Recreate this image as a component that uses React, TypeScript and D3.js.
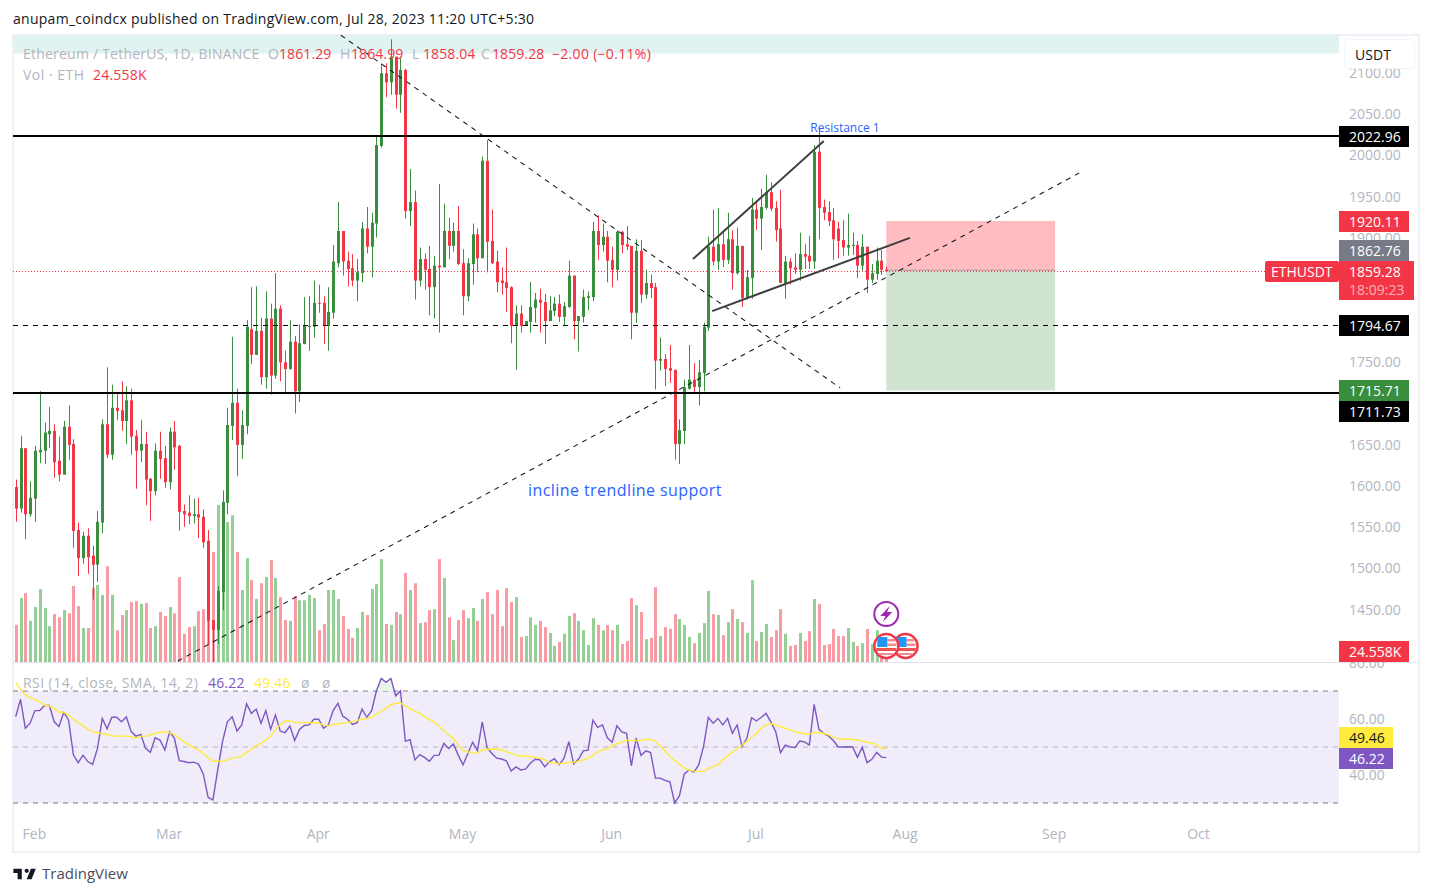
import React, { useEffect, useRef } from 'react'
import * as d3 from 'd3'

// daily candles, Jan 28 to Jul 28 2023
const firstDay = Date.UTC(2023, 0, 28)

const opens = [
  1598, 1572, 1645, 1565, 1584, 1640, 1642, 1662, 1666, 1630, 1613, 1671, 1650, 1546, 1512, 1539, 1515, 1504, 1555, 1674,
  1637, 1694, 1691, 1678, 1703, 1660, 1642, 1650, 1608, 1593, 1642, 1633, 1604, 1665, 1648, 1569, 1567, 1563, 1565, 1562,
  1533, 1437, 1425, 1471, 1579, 1672, 1700, 1649, 1672, 1789, 1758, 1787, 1731, 1802, 1733, 1814, 1749, 1741, 1774, 1714,
  1771, 1792, 1792, 1821, 1821, 1793, 1809, 1869, 1908, 1872, 1863, 1848, 1857, 1911, 1889, 1917, 2011, 2099, 2088, 2119,
  2073, 2103, 1932, 1943, 1848, 1874, 1862, 1840, 1866, 1864, 1908, 1890, 1908, 1869, 1829, 1868, 1904, 1875, 1993, 1896,
  1871, 1848, 1846, 1840, 1793, 1808, 1794, 1798, 1815, 1825, 1822, 1799, 1811, 1820, 1804, 1816, 1854, 1799, 1804, 1827,
  1828, 1908, 1891, 1901, 1873, 1861, 1907, 1892, 1890, 1809, 1884, 1831, 1845, 1840, 1751, 1753, 1742, 1740, 1650, 1666,
  1717, 1728, 1719, 1736, 1791, 1889, 1871, 1892, 1873, 1898, 1857, 1890, 1827, 1851, 1934, 1923, 1936, 1955, 1936, 1911,
  1845, 1871, 1864, 1861, 1880, 1878, 1871, 2004, 1937, 1931, 1921, 1911, 1897, 1888, 1890, 1891, 1866, 1889, 1849, 1856,
  1872, 1861.29,
]
const highs = [
  1607, 1660, 1645, 1605, 1648, 1714, 1676, 1695, 1674, 1659, 1678, 1697, 1656, 1555, 1544, 1548, 1527, 1569, 1680, 1743,
  1722, 1713, 1726, 1720, 1717, 1667, 1679, 1665, 1609, 1651, 1665, 1648, 1670, 1678, 1649, 1577, 1588, 1584, 1585, 1571,
  1546, 1437, 1478, 1594, 1694, 1780, 1717, 1691, 1800, 1840, 1841, 1803, 1835, 1820, 1857, 1818, 1763, 1800, 1781, 1795,
  1828, 1829, 1848, 1843, 1829, 1840, 1891, 1943, 1908, 1883, 1880, 1874, 1919, 1937, 1930, 2023, 2111, 2111, 2140, 2119,
  2119, 2104, 1983, 1957, 1888, 1881, 1890, 1878, 1965, 1941, 1924, 1918, 1938, 1886, 1875, 1917, 1911, 1998, 2018, 1934,
  1884, 1864, 1888, 1841, 1818, 1818, 1799, 1846, 1833, 1838, 1832, 1829, 1828, 1831, 1822, 1872, 1854, 1805, 1837, 1835,
  1919, 1927, 1917, 1908, 1889, 1909, 1908, 1914, 1890, 1898, 1897, 1861, 1855, 1845, 1779, 1759, 1770, 1740, 1680, 1728,
  1770, 1748, 1752, 1797, 1901, 1934, 1936, 1906, 1930, 1909, 1912, 1890, 1861, 1948, 1944, 1959, 1976, 1967, 1944, 1958,
  1878, 1875, 1881, 1906, 1892, 1902, 2012, 2033, 1946, 1944, 1936, 1919, 1921, 1929, 1906, 1896, 1904, 1889, 1868, 1888,
  1885, 1864.99,
]
const lows = [
  1556, 1567, 1535, 1562, 1556, 1627, 1626, 1645, 1609, 1605, 1613, 1631, 1524, 1490, 1505, 1493, 1462, 1483, 1542, 1633,
  1631, 1679, 1666, 1650, 1637, 1596, 1628, 1576, 1557, 1588, 1608, 1597, 1595, 1619, 1545, 1550, 1553, 1554, 1536, 1524,
  1407, 1386, 1408, 1449, 1565, 1655, 1611, 1632, 1662, 1747, 1758, 1722, 1717, 1710, 1729, 1726, 1713, 1740, 1687, 1701,
  1771, 1763, 1779, 1809, 1771, 1763, 1802, 1864, 1854, 1841, 1841, 1823, 1846, 1881, 1852, 1900, 2009, 2070, 2073, 2056,
  2051, 1923, 1914, 1825, 1841, 1837, 1806, 1802, 1785, 1864, 1874, 1883, 1867, 1806, 1823, 1843, 1858, 1875, 1858, 1868,
  1834, 1831, 1810, 1772, 1740, 1785, 1793, 1785, 1797, 1785, 1771, 1799, 1805, 1798, 1793, 1815, 1777, 1762, 1797, 1812,
  1823, 1873, 1883, 1846, 1840, 1848, 1881, 1885, 1777, 1797, 1821, 1826, 1827, 1716, 1739, 1720, 1724, 1631, 1626, 1650,
  1716, 1712, 1697, 1714, 1787, 1866, 1861, 1864, 1868, 1837, 1855, 1816, 1825, 1826, 1909, 1885, 1934, 1932, 1895, 1845,
  1826, 1843, 1856, 1848, 1862, 1862, 1862, 1898, 1921, 1914, 1873, 1875, 1878, 1878, 1879, 1851, 1860, 1833, 1845, 1849,
  1855, 1858.04,
]
const closes = [
  1572, 1645, 1565, 1585, 1642, 1643, 1664, 1666, 1628, 1613, 1671, 1649, 1545, 1512, 1539, 1513, 1504, 1556, 1674, 1637,
  1694, 1690, 1678, 1703, 1659, 1642, 1650, 1607, 1593, 1642, 1632, 1604, 1665, 1646, 1568, 1565, 1563, 1565, 1561, 1531,
  1436, 1425, 1472, 1580, 1673, 1700, 1649, 1673, 1792, 1758, 1787, 1731, 1802, 1733, 1814, 1749, 1741, 1774, 1714, 1772,
  1793, 1793, 1821, 1820, 1793, 1810, 1871, 1908, 1871, 1862, 1848, 1858, 1911, 1889, 1918, 2012, 2099, 2088, 2119, 2073,
  2103, 1932, 1943, 1848, 1874, 1861, 1840, 1866, 1864, 1908, 1890, 1908, 1868, 1829, 1869, 1904, 1875, 1993, 1895, 1869,
  1846, 1845, 1839, 1793, 1808, 1793, 1799, 1816, 1825, 1821, 1799, 1812, 1820, 1804, 1817, 1854, 1799, 1805, 1828, 1829,
  1908, 1891, 1901, 1872, 1861, 1907, 1891, 1889, 1809, 1884, 1831, 1845, 1839, 1751, 1753, 1741, 1739, 1650, 1667, 1719,
  1728, 1719, 1737, 1792, 1889, 1871, 1892, 1873, 1898, 1857, 1890, 1827, 1852, 1934, 1923, 1937, 1955, 1935, 1909, 1845,
  1871, 1863, 1861, 1880, 1877, 1871, 2004, 1936, 1930, 1920, 1898, 1896, 1888, 1891, 1891, 1866, 1889, 1849, 1857, 1872,
  1861, 1859.28,
]
// volume in thousands of ETH
const volumes = [
  83, 143, 154, 92, 123, 163, 121, 80, 107, 100, 116, 109, 170, 125, 76, 76, 165, 172, 150, 214,
  150, 71, 105, 116, 134, 136, 130, 132, 76, 80, 112, 103, 123, 109, 190, 63, 78, 80, 114, 118,
  185, 246, 351, 257, 313, 328, 246, 161, 232, 183, 141, 176, 190, 228, 188, 145, 94, 92, 147, 138,
  138, 150, 143, 71, 85, 161, 161, 141, 103, 74, 54, 76, 112, 105, 163, 174, 230, 85, 83, 112,
  107, 199, 161, 176, 87, 89, 116, 118, 230, 188, 100, 49, 94, 116, 98, 121, 92, 141, 156, 107,
  161, 80, 165, 134, 145, 56, 58, 100, 83, 92, 78, 65, 36, 45, 63, 103, 109, 92, 71, 38,
  98, 83, 71, 83, 71, 83, 40, 47, 143, 127, 112, 51, 54, 167, 58, 78, 74, 107, 96, 83,
  56, 42, 65, 87, 159, 107, 105, 60, 89, 118, 96, 89, 65, 183, 47, 67, 85, 56, 71, 118,
  63, 36, 38, 65, 47, 69, 141, 130, 38, 40, 74, 58, 58, 76, 45, 36, 42, 74, 40, 71,
  45, 24.558,
]
const rsi = [
  60.8, 67, 56.7, 58.5, 63, 63, 64.8, 64.8, 59, 57.3, 62.4, 59.6, 47.1, 44.4, 47.1, 44.8, 43.8, 49.5, 60.2, 56.5,
  60.6, 60.6, 59, 60.8, 55.5, 53.9, 54.5, 49.5, 48.1, 53.3, 52.5, 48.9, 55.4, 53.1, 45.1, 44.8, 44.4, 44.6, 43.9, 40.4,
  32, 31.1, 41.8, 51.9, 59, 60.8, 55.7, 57.9, 65.4, 62, 63.5, 58.5, 63, 56.3, 61.4, 55.7, 55.1, 57.5, 52.3, 56.3,
  57.7, 57.9, 59.9, 59.9, 56.7, 57.9, 63, 65.6, 61, 59.9, 58.1, 58.7, 63.5, 60.6, 63, 70.1, 74.5, 73.1, 74.5, 68.3,
  70.1, 52.1, 52.6, 45.4, 47.3, 46.3, 44.9, 47, 47.1, 51.3, 49.5, 51.1, 47.1, 43.6, 47.7, 51.7, 48.7, 59, 49.8, 47.7,
  46, 45.7, 45.1, 41.4, 42.9, 41.8, 42.1, 44.2, 45.6, 45.4, 42.9, 44.8, 45.8, 43.7, 46, 51.9, 44, 45.6, 48.6, 48.9,
  59.6, 57, 57.9, 53.3, 51.7, 57.6, 55.4, 54.9, 43.3, 53.2, 47, 48.6, 48, 38.9, 38.9, 38.1, 37.6, 30.1, 32.6, 40.4,
  41.8, 41, 43.6, 50.1, 60.6, 58.5, 60.2, 57.9, 60.2, 54.9, 57.9, 50.1, 53.1, 60.5, 59.3, 60.6, 62, 59, 55.5, 48,
  50.7, 50, 49.8, 52.1, 51.8, 50.7, 65.2, 56.3, 54.9, 53.9, 52.3, 50, 50, 50.1, 50, 46.3, 49.9, 44.4, 45.6, 48.1,
  46.4, 46.22,
]
const rsiSma = [
  73, 70.6, 68.6, 67.6, 67, 66.2, 65, 64.6, 63.8, 62.4, 62.4, 61.4, 59.9, 58.7, 57.7, 56.3, 55.5, 55, 54.8, 54.4,
  54, 53.9, 53.9, 53.9, 53.7, 53.2, 53.8, 53.9, 54.3, 54.9, 55.2, 55.4, 55.1, 54.4, 53.1, 51.9, 50.7, 49.9, 49, 47.7,
  46.3, 45.1, 44.8, 44.9, 45.4, 46.1, 46.2, 46.8, 48.1, 49.2, 50.4, 51.3, 52.5, 53.9, 56.1, 58.1, 59.2, 59.4, 58.8, 58.7,
  58.7, 58.8, 58.7, 58.5, 57.9, 57.6, 57.9, 58.3, 58.5, 58.7, 59, 59.5, 60, 60.2, 60.6, 61.7, 62.8, 63.8, 65.1, 65.6,
  65.7, 64.6, 63.6, 62.9, 62, 60.8, 59.9, 59, 57.5, 55.8, 54.3, 53, 50.7, 48.9, 48.2, 48, 47.9, 48.8, 49.2, 49.3,
  49.2, 49, 48.3, 47.7, 47.1, 46.8, 46.8, 46.5, 46.3, 46, 45.4, 44.5, 44.2, 44, 44.2, 44.5, 44.5, 44.9, 45.4, 46,
  47.1, 48.3, 48.9, 49.4, 50.4, 51.2, 51.7, 52.3, 52.3, 52.3, 52.5, 52.7, 52.7, 52, 50.4, 48.6, 46.8, 45.1, 43.7, 42.5,
  41.8, 41.4, 41.3, 41.3, 42.3, 43, 43.7, 45.4, 46.9, 48.1, 49.3, 50.6, 52, 53.5, 54.9, 56.7, 57.9, 58.3, 57.9, 57.3,
  56.7, 56.1, 55.5, 55.1, 54.8, 54.5, 55.2, 55.2, 54.9, 54.3, 53.5, 52.9, 52.7, 53, 52.7, 52.6, 52.1, 51.7, 51.4, 50.8,
  49.5, 49.46,
]

// 1850, 1800 and 1700 sit under the price tags in the picture, so they are left out
const priceTicks = [2100, 2050, 2000, 1950, 1900, 1750, 1650, 1600, 1550, 1500, 1450]
const rsiTicks = [80, 60, 40]
const monthTicks = [1, 2, 3, 4, 5, 6, 7, 8, 9].map(m => new Date(Date.UTC(2023, m, 1)))

// trend lines as [bar index, price] pairs
const dashedTrends = [
  [[67.6, 2145], [171.4, 1718]],
  [[33.7, 1387.4], [221.9, 1980.7]],
]
const wedgeLines = [
  [[140.8, 1874], [168, 2017]],
  [[144.8, 1811], [185.9, 1899.6]],
]
const solidLevels = [2022.96, 1711.73]
const dashedLevel = 1794.67
const lastClose = 1859.28
const stopPrice = 1920.11
const targetPrice = 1715.71
const positionEnd = 216.1

const green = '#388e3c'
const red = '#f23645'
const gray = '#b2b5be'
const font = "'Open Sans', 'Noto Sans', sans-serif"

const left = 13
const right = 1339

const day = (i: number) => new Date(firstDay + i * 86400000)

const App = () => {
  const svg = useRef<SVGSVGElement>(null)

  useEffect(() => {
    const root = d3.select(svg.current)
    root.selectAll('*').remove()

    const x = d3.scaleUtc().domain([day(0), day(181)]).range([15.7, 886.3])
    const barX = (i: number) => x(day(i))
    const y = d3.scaleLinear().domain([2000, 1500]).range([155, 568])
    const yVol = d3.scaleLinear().domain([0, 351]).range([662, 505])
    const yRsi = d3.scaleLinear().domain([60, 40]).range([719, 775])

    const bars = opens.map((o, i) => ({
      i, o, h: highs[i], l: lows[i], c: closes[i], v: volumes[i], up: closes[i] >= o,
      px: Math.round(barX(i)),
    }))

    // page frame
    root.append('rect').attr('width', 1432).attr('height', 896).attr('fill', '#fff')
    root.append('rect').attr('x', 13).attr('y', 35).attr('width', 1406).attr('height', 817)
      .attr('fill', 'none').attr('stroke', '#f0f0f6').attr('stroke-width', 2)
    root.append('text').attr('x', 13).attr('y', 24).attr('font-size', 14).attr('fill', '#131722')
      .attr('letter-spacing', 0.27).attr('font-family', font)
      .text('anupam_coindcx published on TradingView.com, Jul 28, 2023 11:20 UTC+5:30')

    // teal band behind the legend
    root.append('rect').attr('x', left).attr('y', 35).attr('width', right - left).attr('height', 18.5).attr('fill', '#e0f3f1')

    // position tool
    const boxBottom = Math.ceil(y(targetPrice)) + 0.5
    root.append('rect').attr('x', barX(181)).attr('y', y(stopPrice)).attr('width', barX(positionEnd) - barX(181))
      .attr('height', y(lastClose) - y(stopPrice)).attr('fill', '#ffbcc1')
    root.append('rect').attr('x', barX(181)).attr('y', y(lastClose)).attr('width', barX(positionEnd) - barX(181))
      .attr('height', boxBottom - y(lastClose)).attr('fill', '#d1e4d2')
    root.append('line').attr('x1', barX(181)).attr('x2', barX(positionEnd)).attr('y1', y(lastClose) - 1).attr('y2', y(lastClose) - 1)
      .attr('stroke', '#9aa3a0').attr('stroke-width', 1)

    // volume
    root.append('g').selectAll('rect').data(bars).enter().append('rect')
      .attr('x', d => d.px - 1).attr('width', 3)
      .attr('y', d => yVol(d.v)).attr('height', d => yVol(0) - yVol(d.v))
      .attr('fill', d => (d.up ? '#94cf96' : '#f99ba4'))

    // last price dotted line
    root.append('line').attr('x1', left).attr('x2', 1265).attr('y1', Math.round(y(lastClose)) + 0.5).attr('y2', Math.round(y(lastClose)) + 0.5)
      .attr('stroke', red).attr('stroke-dasharray', '1 2')

    // candles
    const candle = root.append('g').selectAll('g').data(bars).enter().append('g')
      .attr('fill', d => (d.up ? green : red)).attr('stroke', d => (d.up ? green : red))
    candle.append('line')
      .attr('x1', d => d.px + 0.5).attr('x2', d => d.px + 0.5)
      .attr('y1', d => y(d.h)).attr('y2', d => y(d.l))
    candle.append('rect')
      .attr('stroke', 'none')
      .attr('x', d => d.px - 1).attr('width', 3)
      .attr('y', d => y(Math.max(d.o, d.c)))
      .attr('height', d => Math.max(1, Math.abs(y(d.o) - y(d.c))))

    // levels
    solidLevels.forEach(p => {
      root.append('line').attr('x1', left).attr('x2', right).attr('y1', Math.round(y(p))).attr('y2', Math.round(y(p)))
        .attr('stroke', '#000').attr('stroke-width', 2)
    })
    root.append('line').attr('x1', left).attr('x2', right).attr('y1', Math.round(y(dashedLevel)) + 0.5).attr('y2', Math.round(y(dashedLevel)) + 0.5)
      .attr('stroke', '#000').attr('stroke-dasharray', '5 5')

    const trend = d3.line<number[]>().x(d => barX(d[0])).y(d => y(d[1]))
    dashedTrends.forEach(t => {
      root.append('path').attr('d', trend(t)).attr('fill', 'none').attr('stroke', '#131722')
        .attr('stroke-width', 1.05).attr('stroke-dasharray', '5 5')
    })
    wedgeLines.forEach(t => {
      root.append('path').attr('d', trend(t)).attr('fill', 'none').attr('stroke', '#3f3f3f').attr('stroke-width', 2)
    })

    // drawing labels
    root.append('text').attr('x', 845).attr('y', 132).attr('text-anchor', 'middle').attr('font-size', 12)
      .attr('font-family', font).attr('fill', '#2962ff').text('Resistance 1')
    root.append('text').attr('x', 625).attr('y', 496).attr('text-anchor', 'middle').attr('font-size', 16)
      .attr('letter-spacing', 0.42).attr('font-family', font).attr('fill', '#2962ff').text('incline trendline support')

    // events
    const flag = (cx: number) => {
      const g = root.append('g').attr('transform', `translate(${cx},646)`)
      g.append('circle').attr('r', 12).attr('fill', '#fff').attr('stroke', red).attr('stroke-width', 2.5)
      g.append('rect').attr('x', 1).attr('y', -7).attr('width', 8).attr('height', 2.5).attr('fill', '#f48a92')
      g.append('rect').attr('x', 1).attr('y', -2.5).attr('width', 9).attr('height', 2.5).attr('fill', '#f48a92')
      g.append('rect').attr('x', -10).attr('y', 2).attr('width', 20).attr('height', 3).attr('fill', '#ef5350')
      g.append('rect').attr('x', -7).attr('y', 7).attr('width', 14).attr('height', 2).attr('fill', '#f48a92')
      g.append('rect').attr('x', -9).attr('y', -9).attr('width', 10).attr('height', 10).attr('fill', '#2196f3')
    }
    flag(barX(185))
    flag(barX(181))
    const bolt = root.append('g').attr('transform', `translate(${barX(181)},614)`)
    bolt.append('circle').attr('r', 12).attr('fill', '#fff').attr('stroke', '#9c27b0').attr('stroke-width', 2)
    bolt.append('path').attr('d', 'M3.5,-8 L-6,2 L-0.8,2 L-3.5,8 L6,-2 L0.8,-2 Z').attr('fill', '#9c27b0')

    // legend
    const legend = (tx: number, ty: number, s: string, fill: string, spacing = 0) =>
      root.append('text').attr('x', tx).attr('y', ty).attr('font-size', 14).attr('font-family', font)
        .attr('letter-spacing', spacing).attr('fill', fill).text(s)
    legend(23, 59, 'Ethereum / TetherUS, 1D, BINANCE', gray, 0.22)
    legend(268, 59, 'O', gray)
    legend(279, 59, '1861.29', red, 0.1)
    legend(340, 59, 'H', gray)
    legend(351, 59, '1864.99', red, 0.1)
    legend(412, 59, 'L', gray)
    legend(423, 59, '1858.04', red, 0.1)
    legend(481, 59, 'C', gray)
    legend(492, 59, '1859.28', red, 0.1)
    legend(552, 59, '\u22122.00 (\u22120.11%)', red, 0.3)
    legend(23, 80, 'Vol \u00b7 ETH', gray, 0.5)
    legend(93, 80, '24.558K', red, 0.2)

    // RSI pane
    root.append('line').attr('x1', left).attr('x2', 1419).attr('y1', 662.5).attr('y2', 662.5).attr('stroke', '#e0e3eb')
    root.append('rect').attr('x', left).attr('y', yRsi(70)).attr('width', right - left)
      .attr('height', yRsi(30) - yRsi(70)).attr('fill', '#f0ecf9')
    ;[70, 30].forEach(v => {
      root.append('line').attr('x1', left).attr('x2', right).attr('y1', yRsi(v)).attr('y2', yRsi(v))
        .attr('stroke', '#787b86').attr('stroke-dasharray', '5 5')
    })
    root.append('line').attr('x1', left).attr('x2', right).attr('y1', yRsi(50)).attr('y2', yRsi(50))
      .attr('stroke', '#b9b7c4').attr('stroke-dasharray', '5 5')

    root.append('clipPath').attr('id', 'overbought').append('rect')
      .attr('x', left).attr('y', 660).attr('width', right - left).attr('height', yRsi(70) - 660)
    root.append('path')
      .attr('clip-path', 'url(#overbought)')
      .attr('d', d3.area<number>().x((_, i) => barX(i)).y0(yRsi(70)).y1(d => yRsi(d))(rsi))
      .attr('fill', '#e6f5e8')

    root.append('clipPath').attr('id', 'pane').append('rect')
      .attr('x', left).attr('y', 663).attr('width', right - left).attr('height', 150)
    const rsiLine = d3.line<number>().x((_, i) => barX(i)).y(d => yRsi(d))
    root.append('path').attr('clip-path', 'url(#pane)').attr('d', rsiLine(rsi)).attr('fill', 'none').attr('stroke', '#7e57c2').attr('stroke-width', 1.4)
    root.append('path').attr('clip-path', 'url(#pane)').attr('d', rsiLine(rsiSma)).attr('fill', 'none').attr('stroke', '#ffeb3b').attr('stroke-width', 1.4)

    legend(23, 688, 'RSI (14, close, SMA, 14, 2)', gray, 0.44)
    legend(208, 688, '46.22', '#7e57c2', 0.2)
    legend(254, 688, '49.46', '#ffeb3b', 0.2)
    legend(301, 688, '\u00f8', gray)
    legend(322, 688, '\u00f8', gray)

    // axes
    const styleAxis = (g: any) => {
      g.select('.domain').remove()
      g.selectAll('text').attr('fill', gray).attr('font-size', 14).attr('font-family', font)
    }
    root.append('g').attr('transform', 'translate(1346,0.5)')
      .call(d3.axisRight(y).tickValues(priceTicks).tickSize(0).tickFormat(d3.format('.2f')) as any)
      .call(styleAxis)
    root.append('g').attr('transform', 'translate(1346,0.5)')
      .call(d3.axisRight(yRsi).tickValues(rsiTicks).tickSize(0).tickFormat(d3.format('.2f')) as any)
      .call(styleAxis)
    root.append('g').attr('transform', 'translate(-1,826)')
      .call(d3.axisBottom(x).tickValues(monthTicks).tickSize(0).tickFormat(d3.utcFormat('%b') as any) as any)
      .call(styleAxis)

    // USDT button
    root.append('rect').attr('x', 1344.5).attr('y', 39.5).attr('width', 70).attr('height', 29).attr('rx', 4)
      .attr('fill', '#fff').attr('stroke', '#f0f3fa')
    root.append('text').attr('x', 1373).attr('y', 59.5).attr('text-anchor', 'middle').attr('font-size', 14)
      .attr('font-family', font).attr('fill', '#131722').text('USDT')

    // price tags on the axis
    const tag = (top: number, w: number, fill: string, s: string, color = '#fff', h = 21) => {
      root.append('rect').attr('x', right).attr('y', top).attr('width', w).attr('height', h).attr('fill', fill)
      root.append('text').attr('x', 1349).attr('y', top + 15.5).attr('font-size', 14).attr('font-family', font)
        .attr('fill', color).text(s)
    }
    tag(126, 70, '#000', '2022.96')
    tag(211, 70, red, '1920.11')
    tag(240, 70, '#787b86', '1862.76')
    root.append('rect').attr('x', 1265).attr('y', 261).attr('width', 74).attr('height', 21).attr('rx', 2).attr('fill', red)
    tag(261, 75, red, '1859.28', '#fff', 39)
    root.append('text').attr('x', 1271).attr('y', 276.5).attr('font-size', 14).attr('font-family', font).attr('fill', '#fff').text('ETHUSDT')
    root.append('text').attr('x', 1349).attr('y', 295).attr('font-size', 14).attr('font-family', font).attr('fill', '#fbb2b8').text('18:09:23')
    tag(315, 70, '#000', '1794.67')
    tag(380, 70, green, '1715.71')
    tag(401, 70, '#000', '1711.73')
    tag(641, 70, red, '24.558K')
    tag(727, 54, '#ffeb3b', '49.46', '#131722')
    tag(748, 54, '#7e57c2', '46.22')

    // TradingView mark
    root.append('path').attr('transform', 'translate(12,864.5) scale(0.7)')
      .attr('d', 'M14 6H2v6h6v9h6V6zm14 15h-7l6-15h7l-6 15zm-7-9a3 3 0 1 0 0-6 3 3 0 0 0 0 6z')
      .attr('fill', '#131722')
    root.append('text').attr('x', 42).attr('y', 879).attr('font-size', 15).attr('font-family', font)
      .attr('fill', '#4a4e5a').text('TradingView')
  }, [])

  return <svg ref={svg} width={1432} height={896} style={{ position: 'absolute', left: 0, top: 0, display: 'block' }} />
}

export default App
